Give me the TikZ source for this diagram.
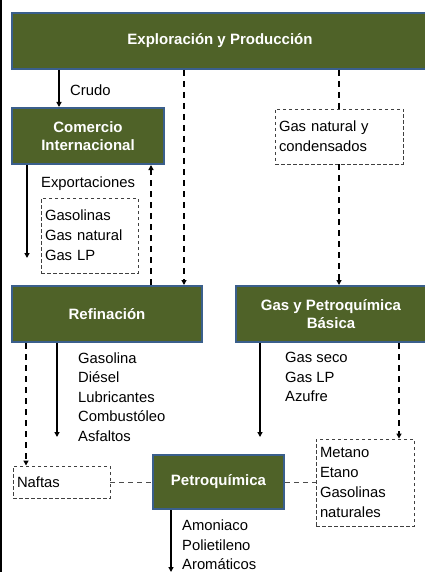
\documentclass[tikz,border=0pt]{standalone}
\usepackage{fontspec}
\setmainfont{Liberation Sans}
\usetikzlibrary{arrows.meta,calc}
\definecolor{olivebox}{RGB}{79,98,40}
\definecolor{bordblue}{RGB}{58,95,140}
\begin{document}
\begin{tikzpicture}[x=1pt,y=-1pt,
 mainbox/.style={draw=bordblue,line width=2pt,fill=olivebox,text=white,font=\fontsize{15}{18}\selectfont\bfseries,align=center,inner sep=0pt},
 dbox/.style={draw=black!75,line width=0.9pt,dash pattern=on 3.5pt off 2.5pt,align=left,inner xsep=4pt,inner ysep=0pt,font=\fontsize{14.8}{20}\selectfont},
 lbl/.style={anchor=west,inner sep=0pt,align=left,font=\fontsize{14.8}{19.5}\selectfont},
 flow/.style={line width=1.6pt,-{Triangle[length=5pt,width=5pt]}},
 dflow/.style={line width=2.2pt,dash pattern=on 6pt off 5pt,-{Triangle[length=5pt,width=5pt]}},
 dline/.style={line width=2.2pt,dash pattern=on 6pt off 5pt},
 tline/.style={line width=1pt,black!70,dash pattern=on 5pt off 4pt}]
\useasboundingbox[fill=white] (0,0) rectangle (424,572);
\fill[black] (0,0) rectangle (2,572);

% main boxes
\node[mainbox,minimum width=416pt,minimum height=56pt] (eyp) at (220,41) {Exploración y Producción};
\node[mainbox,minimum width=152pt,minimum height=56pt] (com) at (88,136) {Comercio\\Internacional};
\node[mainbox,minimum width=190pt,minimum height=56pt] (ref) at (107,314) {Refinación};
\node[mainbox,minimum width=190pt,minimum height=56pt] (gyp) at (331,314) {Gas y Petroquímica\\Básica};
\node[mainbox,minimum width=131pt,minimum height=54pt] (pet) at (218.5,482) {Petroquímica};

% dashed boxes
\node[dbox,text width=120pt,minimum height=55pt] (gn) at (339,136.5) {Gas natural y\\condensados};
\node[dbox,text width=89pt,minimum height=75pt] (exb) at (89.5,235.5) {Gasolinas\\Gas natural\\Gas LP};
\node[dbox,text width=89pt,minimum height=32pt] (naf) at (61.5,482) {Naftas};
\node[dbox,text width=90pt,minimum height=87pt] (met) at (365,482.5) {Metano\\Etano\\Gasolinas\\naturales};

% labels
\node[lbl] (lcrudo) at (70,90) {Crudo};
\node[lbl] (lexp) at (41,184) {Exportaciones};
\node[lbl] (lref) at (78,397) {Gasolina\\Diésel\\Lubricantes\\Combustóleo\\Asfaltos};
\node[lbl] (lgas) at (285,377) {Gas seco\\Gas LP\\Azufre};
\node[lbl] (lpet) at (182,545) {Amoniaco\\Polietileno\\Aromáticos};

% connectors
\path ($(com.north west)+(48,0)$) coordinate (cA);
\draw[flow] (eyp.south -| cA) -- (cA);
\path ($(ref.north west)+(173,0)$) coordinate (cB);
\draw[dflow] (eyp.south -| cB) -- (cB);
\draw[dline] (eyp.south -| gn.north) -- (gn.north);
\draw[dflow] (gn.south) -- (gn.south |- gyp.north);
\coordinate (eEnd) at (27,258);
\draw[flow] (com.south -| eEnd) -- (eEnd);
\path ($(ref.north west)+(140,0)$) coordinate (cC);
\draw[dflow] (cC) -- (com.south -| cC);
\path ($(ref.south west)+(15,0)$) coordinate (cD);
\draw[dflow] (cD) -- (naf.north -| cD);
\coordinate (rEnd) at (57,437);
\draw[flow] (ref.south -| rEnd) -- (rEnd);
\coordinate (gEnd) at (260,437);
\draw[flow] (gyp.south -| gEnd) -- (gEnd);
\path ($(gyp.south west)+(164,0)$) coordinate (cE);
\draw[dflow] (cE) -- (met.north -| cE);
\draw[tline] (naf.east) -- (pet.west);
\draw[tline] (pet.east) -- (met.west |- pet.east);
\coordinate (pEnd) at (171,572);
\draw[flow] (pet.south -| pEnd) -- (pEnd);
\end{tikzpicture}
\end{document}
